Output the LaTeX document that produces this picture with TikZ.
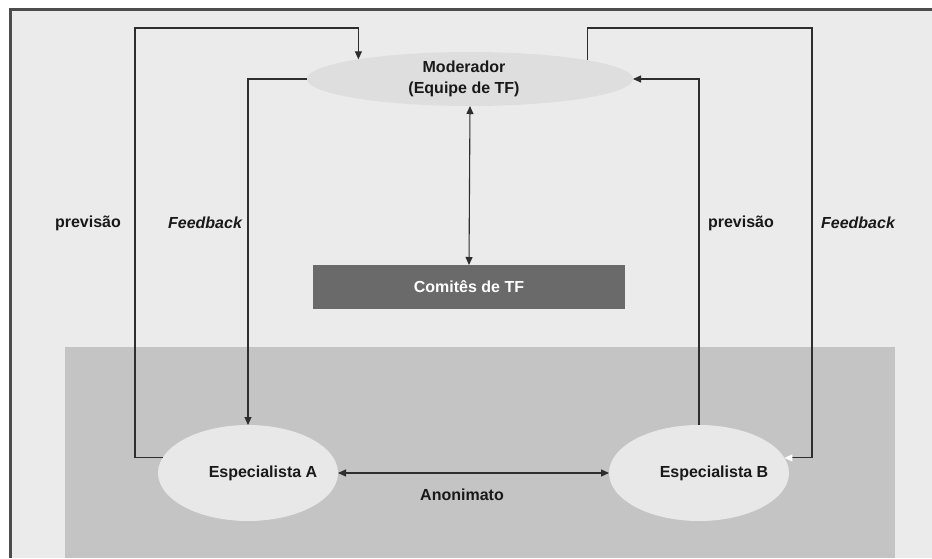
\documentclass[tikz,border=0pt]{standalone}
\usepackage{fontspec}
\setmainfont{Liberation Sans}
\usetikzlibrary{arrows.meta,shapes.geometric}

\definecolor{page_bg}{HTML}{EBEBEB}
\definecolor{lower_bg}{HTML}{C4C4C4}
\definecolor{box_fill}{HTML}{6A6A6A}
\definecolor{line_col}{HTML}{2E2E2E}

\begin{document}
\begin{tikzpicture}[x=1pt, y=1pt, >={Triangle[length=8pt,width=7pt]},
    txt/.style={font=\fontsize{16}{21}\selectfont\bfseries, text=black!90, inner sep=0pt},
    main_node/.style={ellipse, inner sep=0pt, outer sep=0pt, txt},
    conn/.style={draw=line_col, line width=1.1pt}]

    \useasboundingbox (0, 0) rectangle (932, 558);
    \fill[white] (0, 0) rectangle (932, 558);
    \fill[page_bg] (10, 0) rectangle (932, 548);
    \fill[lower_bg] (65, 0) rectangle (895, 211);
    \draw[black!70, line width=3pt] (10, 0) -- (10, 548) -- (932, 548);

    \node[main_node, fill=black!13, minimum width=326pt, minimum height=54pt, align=center] (1) at (470, 479) {};
    \node[txt, align=center] at (464, 479) {Moderador\\(Equipe de TF)};
    \node[fill=box_fill, minimum width=312pt, minimum height=44pt, inner sep=0pt, outer sep=0pt,
        font=\fontsize{16}{21}\selectfont\bfseries, text=white] (2) at (469, 271) {Comitês de TF};
    \node[main_node, fill=black!9, minimum width=180pt, minimum height=96pt,
        label={[txt, xshift=15pt]center:Especialista A}] (3) at (248, 85) {};
    \node[main_node, fill=black!9, minimum width=180pt, minimum height=96pt,
        label={[txt, xshift=15pt]center:Especialista B}] (4) at (699, 85) {};

    \coordinate (5) at (135, 530);
    \coordinate (6) at (812, 530);

    \node[txt] (7) at (88, 335) {previsão};
    \node[txt] (8) at (205, 335) {\itshape Feedback};
    \node[txt] (9) at (741, 335) {previsão};
    \node[txt] (10) at (858, 335) {\itshape Feedback};
    \node[txt] (11) at (462, 63) {Anonimato};

    \draw[conn, ->] (3.170) -| (5) -| (1.170.7);
    \draw[conn, ->] (1.west) -| (3.north);
    \draw[conn, -{Triangle[length=8pt,width=7pt,color=white]}] (1.9.6) |- (6) |- (4.10);
    \draw[conn, ->] (4.north) |- (1.east);
    \draw[conn, <->] (1.south) -- (2.north);
    \draw[conn, <->] (3.east) -- (4.west);

\end{tikzpicture}
\end{document}
